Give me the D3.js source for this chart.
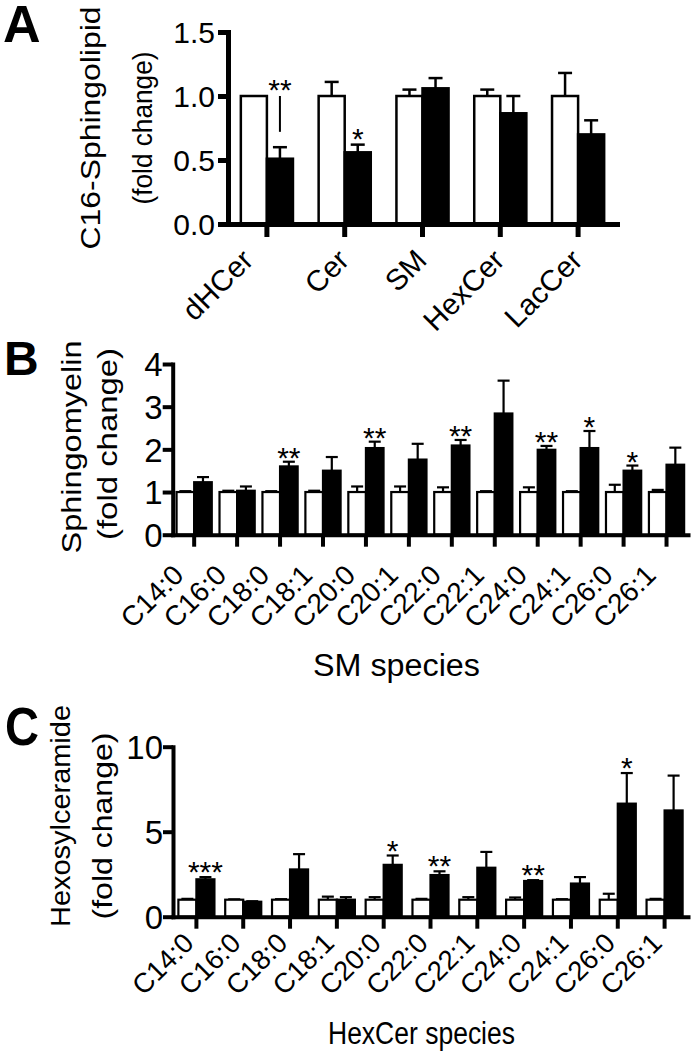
<!DOCTYPE html>
<html><head><meta charset="utf-8">
<script src="https://cdn.jsdelivr.net/npm/d3@7"></script>
<style>
html,body{margin:0;padding:0;background:#fff;}
svg{display:block;}
text{font-family:"Liberation Sans",Arial,Helvetica,sans-serif;fill:#000;}
</style></head><body>
<script>
// ---------- DATA ----------
// Panel A
const catsA = ["dHCer","Cer","SM","HexCer","LacCer"];
const ctrlA = [1.0,1.0,1.0,1.0,1.0];
const ctrlErrA = [0.0,0.11,0.05,0.05,0.18];
const koA = [0.51,0.56,1.06,0.865,0.70];
const koErrA = [0.09,0.06,0.08,0.135,0.11];
const sigA = ["**","*","","",""];
const ticksA = [0,0.5,1.0,1.5];
const annotA = [{cat:"dHCer", from:0.72, to:1.0}];

// Panel B
const catsB = ["C14:0","C16:0","C18:0","C18:1","C20:0","C20:1","C22:0","C22:1","C24:0","C24:1","C26:0","C26:1"];
const ctrlB = [1,1,1,1,1,1,1,1,1,1,1,1];
const ctrlErrB = [0.02,0.03,0.02,0.03,0.13,0.13,0.11,0.02,0.11,0.02,0.17,0.05];
const koB = [1.23,1.03,1.60,1.50,2.03,1.76,2.09,2.84,1.99,2.03,1.50,1.64];
const koErrB = [0.12,0.10,0.11,0.32,0.15,0.37,0.13,0.77,0.09,0.40,0.12,0.40];
const sigB = ["","","**","","**","","**","","**","*","*",""];
const ticksB = [0,1,2,3,4];

// Panel C
const catsC = ["C14:0","C16:0","C18:0","C18:1","C20:0","C22:0","C22:1","C24:0","C24:1","C26:0","C26:1"];
const ctrlC = [1,1,1,1,1,1,1,1,1,1,1];
const ctrlErrC = [0.05,0.02,0.03,0.18,0.15,0.05,0.15,0.13,0.03,0.35,0.05];
const koC = [2.2,0.88,2.78,1.0,3.05,2.45,2.88,2.1,1.95,6.65,6.25];
const koErrC = [0.13,0.03,0.9,0.15,0.55,0.22,0.93,0.05,0.38,1.8,2.05];
const sigC = ["***","","","","*","**","","**","","*",""];
const ticksC = [0,5,10];

// ---------- DRAW ----------
const svg = d3.select("body").append("svg").attr("width",692).attr("height",1055);

function txt(g, s, x, y, o){
  const t = g.append("text").text(s)
    .attr("font-size",o.size).attr("text-anchor",o.anchor||"start");
  if(o.weight) t.attr("font-weight",o.weight);
  if(o.rotate!==undefined){
    t.attr("x",0).attr("y",0).attr("transform",`translate(${x},${y}) rotate(${o.rotate})`);
  } else {
    t.attr("x",x).attr("y",y);
  }
  if(o.length) t.attr("textLength",o.length).attr("lengthAdjust","spacingAndGlyphs");
  return t;
}

function drawPanel(o){
  const g = svg.append("g");
  const x = d3.scaleBand().domain(o.cats).range([o.x0,o.x1]).paddingInner(0).paddingOuter(0);
  const y = d3.scaleLinear().domain([0,o.ymax]).range([o.y0,o.y1]);
  const bw = x.bandwidth()*o.barFrac;
  const cx = c => x(c)+x.bandwidth()/2;
  const rows = o.cats.map((c,i)=>({c, v:[o.ctrl[i],o.ko[i]], e:[o.ctrlErr[i],o.koErr[i]], sig:o.sig[i]}));
  const annot = o.annot||[];

  // error bars
  rows.forEach(r=>{
    [0,1].forEach(k=>{
      if(r.e[k]<=0) return;
      const bx = k===0 ? cx(r.c)-bw/2 : cx(r.c)+bw/2;
      const top = y(r.v[k]+r.e[k]);
      g.append("line").attr("x1",bx).attr("x2",bx).attr("y1",y(r.v[k])).attr("y2",top)
        .attr("stroke","#000").attr("stroke-width",o.errW);
      g.append("line").attr("x1",bx-o.cap/2).attr("x2",bx+o.cap/2).attr("y1",top).attr("y2",top)
        .attr("stroke","#000").attr("stroke-width",o.errW);
    });
  });
  // bars
  rows.forEach(r=>{
    g.append("rect").attr("x",cx(r.c)-bw).attr("y",y(r.v[0])).attr("width",bw).attr("height",y(0)-y(r.v[0]))
      .attr("fill","#fff").attr("stroke","#000").attr("stroke-width",o.barW);
    g.append("rect").attr("x",cx(r.c)).attr("y",y(r.v[1])).attr("width",bw).attr("height",y(0)-y(r.v[1]))
      .attr("fill","#000").attr("stroke","#000").attr("stroke-width",o.barW);
  });
  // annotation lines
  annot.forEach(a=>{
    g.append("line").attr("x1",cx(a.cat)+bw/2).attr("x2",cx(a.cat)+bw/2)
      .attr("y1",y(a.from)).attr("y2",y(a.to)).attr("stroke","#000").attr("stroke-width",2);
  });
  // significance
  rows.forEach(r=>{
    if(!r.sig) return;
    const an = annot.find(a=>a.cat===r.c);
    const base = an ? y(an.to) : y(r.v[1]+r.e[1]);
    const ctr = base - o.sigGap;
    g.append("text").attr("x",cx(r.c)+bw/2).attr("y",ctr+0.57*o.sigSize)
      .attr("text-anchor","middle").attr("font-size",o.sigSize).text(r.sig);
  });

  // axes
  const ya = g.append("g").attr("transform",`translate(${o.x0},0)`)
    .call(d3.axisLeft(y).tickValues(o.ticks).tickFormat(o.fmt).tickSize(o.ytick).tickSizeOuter(0).tickPadding(o.tpad));
  const xa = g.append("g").attr("transform",`translate(0,${o.y0})`)
    .call(d3.axisBottom(x).tickSize(o.xtick).tickSizeOuter(0).tickFormat(""));
  [ya,xa].forEach(a=>{
    a.select(".domain").attr("stroke","#000").attr("stroke-width",o.axisW).attr("stroke-linecap","square");
    a.selectAll(".tick line").attr("stroke","#000").attr("stroke-width",o.axisW);
  });
  ya.selectAll(".tick text").attr("font-size",o.tickSize).attr("fill","#000")
    .style("font-family",'"Liberation Sans",Arial,sans-serif').attr("dy","0.36em");
  // category labels
  o.cats.forEach(c=>{
    const sh = (o.lab.shift && o.lab.shift[c]) || 0;
    txt(g, c, cx(c)+o.lab.dx+sh, o.y0+o.lab.dy, {size:o.lab.size, anchor:"end", rotate:-45});
  });
  return {x,y,g};
}

drawPanel({cats:catsA, ctrl:ctrlA, ctrlErr:ctrlErrA, ko:koA, koErr:koErrA, sig:sigA, ticks:ticksA, annot:annotA,
  x0:228, x1:617, y0:224, y1:32, ymax:1.5, fmt:d3.format(".1f"),
  barFrac:0.335, cap:14, errW:2.5, barW:2.5, axisW:5, ytick:10, xtick:13, tpad:3, tickSize:30,
  sigGap:13, sigSize:30, lab:{dx:6, dy:38, size:29.5, shift:{dHCer:-18}}});

drawPanel({cats:catsB, ctrl:ctrlB, ctrlErr:ctrlErrB, ko:koB, koErr:koErrB, sig:sigB, ticks:ticksB,
  x0:172.7, x1:688, y0:534.7, y1:364, ymax:4, fmt:d3.format("d"),
  barFrac:0.41, cap:12, errW:2.2, barW:2.2, axisW:4, ytick:10, xtick:12, tpad:0, tickSize:33,
  sigGap:11, sigSize:30, lab:{dx:-9, dy:42, size:28}});

drawPanel({cats:catsC, ctrl:ctrlC, ctrlErr:ctrlErrC, ko:koC, koErr:koErrC, sig:sigC, ticks:ticksC,
  x0:173, x1:688, y0:916.7, y1:746.7, ymax:10, fmt:d3.format("d"),
  barFrac:0.385, cap:12, errW:2.2, barW:2.2, axisW:4, ytick:10, xtick:12, tpad:0, tickSize:33,
  sigGap:12, sigSize:30, lab:{dx:-1, dy:28, size:27.5}});

// panel letters
txt(svg,"A",3,42,{size:52,weight:"bold"});
txt(svg,"B",4,375,{size:48,weight:"bold"});
txt(svg,"C",5,745,{size:54,weight:"bold",length:34});

// axis titles
txt(svg,"C16-Sphingolipid",100,128,{size:27,anchor:"middle",rotate:-90,length:243});
txt(svg,"(fold change)",152,128,{size:27,anchor:"middle",rotate:-90,length:153});
txt(svg,"Sphingomyelin",81,447,{size:28,anchor:"middle",rotate:-90,length:213});
txt(svg,"(fold change)",117,444,{size:28,anchor:"middle",rotate:-90,length:192});
txt(svg,"Hexosylceramide",70,816,{size:27,anchor:"middle",rotate:-90,length:222});
txt(svg,"(fold change)",112,826,{size:27,anchor:"middle",rotate:-90,length:187});
txt(svg,"SM species",313,676,{size:31,length:167});
txt(svg,"HexCer species",328,1044,{size:31,length:187});
</script>
</body></html>
